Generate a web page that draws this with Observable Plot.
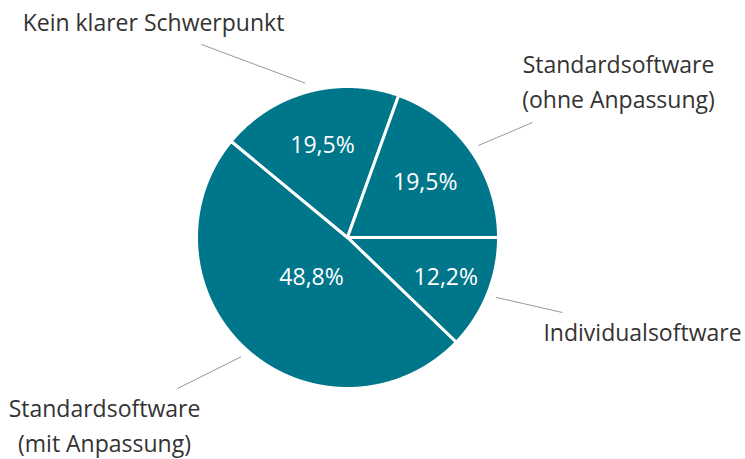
<!DOCTYPE html>
<html>
<head>
<meta charset="utf-8">
<script src="https://cdn.jsdelivr.net/npm/d3@7"></script>
<script src="https://cdn.jsdelivr.net/npm/@observablehq/plot@0.6"></script>
<style>
  html, body { margin: 0; padding: 0; background: #fff; }
  #chart svg { display: block; }
</style>
</head>
<body>
<div id="chart"></div>
<script>
// ---- data ----
const categories = [
  "Individualsoftware",
  "Standardsoftware\n(mit Anpassung)",
  "Kein klarer Schwerpunkt",
  "Standardsoftware\n(ohne Anpassung)"
];
const shares = [12.2, 48.8, 19.5, 19.5];
const valueLabels = ["12,2%", "48,8%", "19,5%", "19,5%"];

// ---- layout (pixels) ----
const W = 745, H = 459;
const cx = 347, cy = 237, R = 151;
const innerLabelRadius = [106, 54, 95, 95];
const leaderStartRadius = 160;
const leaderEndOffset = [[215, 75], [-170, 151], [-146, -193], [185, -115]]; // relative to center
const labelPos = [[642, 340], [104, 451], [153, 30], [618, 107]]; // text anchor (baseline of last line)
const teal = "#00768a";
const fontFamily = "'Open Sans', 'Noto Sans', sans-serif";

const pie = d3.pie().sort(null).value(d => d).startAngle(Math.PI / 2).endAngle(Math.PI / 2 + 2 * Math.PI);
const arcs = pie(shares);
const pt = (a, r) => [cx + r * Math.sin(a), cy - r * Math.cos(a)];

const slicePts = [];
arcs.forEach((a, i) => {
  slicePts.push({i, x: cx, y: cy});
  const n = Math.max(2, Math.ceil((a.endAngle - a.startAngle) / 0.005));
  for (let k = 0; k <= n; k++) {
    const ang = a.startAngle + (a.endAngle - a.startAngle) * k / n;
    const [x, y] = pt(ang, R);
    slicePts.push({i, x, y});
  }
  slicePts.push({i, x: cx, y: cy});
});

const mid = a => (a.startAngle + a.endAngle) / 2;
const inner = arcs.map((a, i) => {
  const [x, y] = pt(mid(a), innerLabelRadius[i]);
  return {x, y, t: valueLabels[i]};
});
const leaders = arcs.map((a, i) => {
  const [x1, y1] = pt(mid(a), leaderStartRadius);
  return {x1, y1, x2: cx + leaderEndOffset[i][0], y2: cy + leaderEndOffset[i][1]};
});
const outer = categories.map((c, i) => ({x: labelPos[i][0], y: labelPos[i][1], t: c}));

const chart = Plot.plot({
  width: W, height: H, margin: 0,
  x: {domain: [0, W], range: [0, W], axis: null},
  y: {domain: [0, H], range: [0, H], axis: null},
  style: {fontFamily, background: "#fff"},
  marks: [
    Plot.line(slicePts, {x: "x", y: "y", z: "i", fill: teal, stroke: "#fff", strokeWidth: 3, strokeLinejoin: "round", curve: "linear"}),
    Plot.text(inner, {x: "x", y: "y", text: "t", fill: "#fff", fontSize: 23, textAnchor: "middle", lineAnchor: "middle"}),
    Plot.link(leaders, {x1: "x1", y1: "y1", x2: "x2", y2: "y2", stroke: "#999", strokeWidth: 1}),
    Plot.text(outer, {x: "x", y: "y", text: "t", fill: "#333", fontSize: 23, textAnchor: "middle", lineAnchor: "bottom", lineHeight: 1.52})
  ]
});
document.getElementById("chart").appendChild(chart);
</script>
</body>
</html>
